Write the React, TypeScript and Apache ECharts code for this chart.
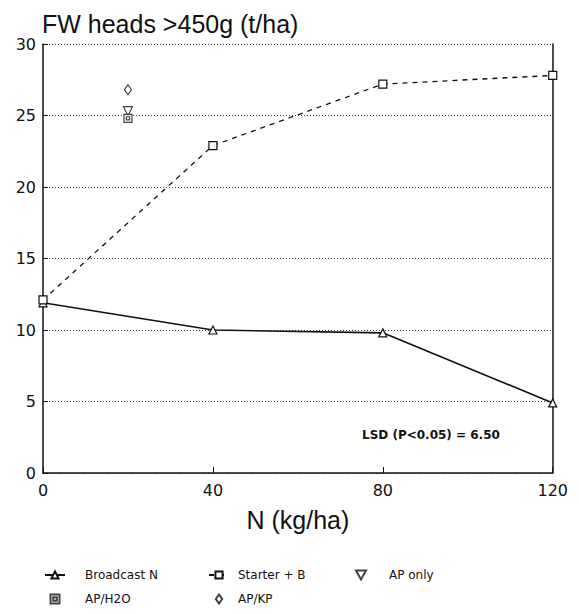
import React, { useEffect, useRef } from "react";
import * as echarts from "echarts";

// Nitrogen rate (kg/ha) for the two rate-response series
const nRates = [0, 40, 80, 120];
// Fresh weight of heads >450 g (t/ha)
const broadcastN = [11.9, 10.0, 9.8, 4.9];
const starterB = [12.1, 22.9, 27.2, 27.8];
// Single treatments applied at 20 kg N/ha
const apRate = 20;
const apOnly = [25.3];
const apH2O = [24.8];
const apKP = [26.8];

const xTicks = [0, 40, 80, 120];
const yTicks = [0, 5, 10, 15, 20, 25, 30];

const SANS = "Liberation Sans, Arial, Helvetica, sans-serif";
const WIDE = "DejaVu Sans, Verdana, sans-serif";

// hollow box with a small box inside
const boxDot = "path://M0,0H10V10H0Z M3,3H7V7H3Z";
const triDown = "path://M0,0L10,0L5,9Z";
const diamondTall = "path://M3.5,0L7,5L3.5,10L0,5Z";

export default function App() {
  const ref = useRef<HTMLDivElement>(null);

  useEffect(() => {
    if (!ref.current) return;
    const chart = echarts.init(ref.current, null, { renderer: "svg" });

    const pairs = (xs: number[], ys: number[]) => xs.map((x, i) => [x, ys[i]]);

    const legendText = (padLeft: number) => ({
      fontFamily: WIDE,
      fontSize: 12,
      color: "#111",
      padding: [0, 0, 0, padLeft],
    });

    chart.setOption({
      animation: false,
      backgroundColor: "#fff",
      textStyle: { fontFamily: SANS, color: "#111" },
      title: {
        text: "FW heads >450g (t/ha)",
        left: 34,
        top: 3,
        padding: 0,
        textStyle: { fontFamily: SANS, fontSize: 25, fontWeight: "normal", color: "#111" },
      },
      grid: { left: 35, right: 14, top: 36, bottom: 141 },
      xAxis: {
        type: "value",
        min: xTicks[0],
        max: xTicks[xTicks.length - 1],
        interval: 40,
        name: "N (kg/ha)",
        nameLocation: "middle",
        nameGap: 34,
        nameTextStyle: { fontFamily: SANS, fontSize: 25, color: "#111" },
        axisLine: { lineStyle: { color: "#111", width: 1.5 } },
        axisTick: { inside: true, length: 6, lineStyle: { color: "#111" } },
        axisLabel: { fontFamily: WIDE, fontSize: 16, color: "#111", margin: 9 },
        splitLine: { show: false },
      },
      yAxis: [
        {
          type: "value",
          min: yTicks[0],
          max: yTicks[yTicks.length - 1],
          interval: 5,
          axisLine: { show: true, lineStyle: { color: "#111", width: 1.5 } },
          axisTick: { show: true, inside: true, length: 5, lineStyle: { color: "#111" } },
          axisLabel: { fontFamily: WIDE, fontSize: 16, color: "#111", margin: 7 },
          splitLine: { show: true, lineStyle: { color: "#444", type: [1, 2], width: 1 } },
        },
        {
          type: "value",
          position: "right",
          min: 0,
          max: 30,
          interval: 5,
          axisLine: { show: true, lineStyle: { color: "#111", width: 1.5 } },
          axisTick: { show: false },
          axisLabel: { show: false },
          splitLine: { show: false },
        },
      ],
      legend: [
        {
          orient: "vertical",
          left: 31,
          top: 556,
          itemWidth: 20,
          itemHeight: 9,
          itemGap: 12,
          data: [
            { name: "Broadcast N" },
            { name: "AP/H2O", icon: boxDot },
          ],
          textStyle: legendText(15),
        },
        {
          orient: "vertical",
          left: 195,
          top: 556,
          itemWidth: 20,
          itemHeight: 9,
          itemGap: 12,
          data: [
            { name: "Starter + B" },
            { name: "AP/KP", icon: diamondTall },
          ],
          textStyle: legendText(4),
        },
        {
          orient: "vertical",
          left: 342,
          top: 556,
          itemWidth: 20,
          itemHeight: 9,
          itemGap: 12,
          data: [{ name: "AP only", icon: triDown }],
          textStyle: legendText(13),
        },
      ],
      series: [
        {
          name: "Broadcast N",
          type: "line",
          data: pairs(nRates, broadcastN),
          symbol: "triangle",
          symbolSize: 8,
          color: "#111",
          lineStyle: { color: "#111", width: 1.6 },
          itemStyle: { color: "#fff", borderColor: "#111", borderWidth: 1.2 },
        },
        {
          name: "Starter + B",
          type: "line",
          data: pairs(nRates, starterB),
          symbol: "rect",
          symbolSize: 8,
          color: "#111",
          lineStyle: { color: "#111", width: 1.3, type: [5, 5] },
          itemStyle: { color: "#fff", borderColor: "#111", borderWidth: 1.2 },
        },
        {
          name: "AP only",
          type: "scatter",
          data: [[apRate, apOnly[0]]],
          symbol: triDown,
          symbolSize: 9,
          itemStyle: { color: "#fff", borderColor: "#111", borderWidth: 1.2 },
        },
        {
          name: "AP/H2O",
          type: "scatter",
          data: [[apRate, apH2O[0]]],
          symbol: boxDot,
          symbolSize: 8,
          itemStyle: { color: "#fff", borderColor: "#111", borderWidth: 1.2 },
        },
        {
          name: "AP/KP",
          type: "scatter",
          data: [[apRate, apKP[0]]],
          symbol: diamondTall,
          symbolSize: [7, 10],
          itemStyle: { color: "#fff", borderColor: "#111", borderWidth: 1.2 },
        },
      ],
      graphic: [
        {
          type: "text",
          left: 354,
          top: 421,
          style: {
            text: "LSD (P<0.05) = 6.50",
            fontFamily: WIDE,
            fontSize: 12,
            fontWeight: "bold",
            fill: "#111",
          },
        },
      ],
    });

    return () => chart.dispose();
  }, []);

  return <div ref={ref} style={{ width: 563, height: 606 }} />;
}
